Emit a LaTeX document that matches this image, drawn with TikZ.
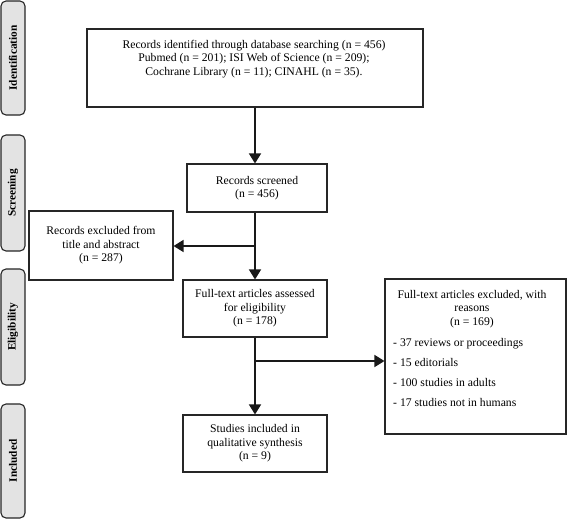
\documentclass[tikz,border=0pt]{standalone}
\usepackage{fontspec}
\setmainfont{Liberation Serif}
\usetikzlibrary{arrows.meta}
\begin{document}
\begin{tikzpicture}[x=1pt,y=-1pt,
  box/.style={draw=black!85,line width=1.1pt,fill=white,inner sep=0pt},
  bar/.style={draw=black!85,line width=1.1pt,fill=gray!22,rounded corners=5pt,
    rotate=90,minimum height=24pt,inner sep=0pt,
    font=\bfseries\fontsize{11.3}{12}\selectfont},
  txt/.style={align=center,inner sep=0pt,font=\fontsize{11.7}{13.5}\selectfont},
  arr/.style={line width=1.5pt,draw=black!90,-{Triangle[length=10pt,width=12pt]}},
  seg/.style={line width=1.5pt,draw=black!90}]
\fill[white] (0,0) rectangle (568,520);
\useasboundingbox (0,0) rectangle (568,520);

% phase bars
\node[bar,minimum width=114pt] (b1) at (13,58) {Identification};
\node[bar,minimum width=116pt] (b2) at (13,193) {Screening};
\node[bar,minimum width=116pt] (b3) at (13,327) {Eligibility};
\node[bar,minimum width=114pt] (b4) at (13,461) {Included};

% boxes
\node[box,minimum width=336pt,minimum height=78pt] (ident) at (255,68) {};
\node[txt,anchor=north] (identtxt) at (254,40)
  {Records identified through database searching (n = 456)\\
   Pubmed (n = 201); ISI Web of Science (n = 209);\\
   Cochrane Library (n = 11); CINAHL (n = 35).};

\node[box,minimum width=140pt,minimum height=48pt,txt] (screened) at (257,188)
  {Records screened\\(n = 456)};

\node[box,minimum width=144pt,minimum height=69pt,txt] (recex) at (101,245.5)
  {Records excluded from\\title and abstract\\(n = 287)};

\node[box,minimum width=144pt,minimum height=57pt,txt] (ftext) at (255,308.5)
  {Full-text articles assessed\\for eligibility\\(n = 178)};

\node[box,minimum width=144pt,minimum height=57pt,txt] (incl) at (255,443.5)
  {Studies included in\\qualitative synthesis\\(n = 9)};

\node[box,minimum width=181pt,minimum height=155pt] (excl) at (475.5,356.5) {};
\node[txt,anchor=north] (excltxt) at (472,290)
  {Full-text articles excluded, with\\reasons\\(n = 169)};
\node[txt,align=left,anchor=north west,font=\fontsize{11.7}{20}\selectfont] (excllist) at (393,338)
  {- 37 reviews or proceedings\\
   - 15 editorials\\
   - 100 studies in adults\\
   - 17 studies not in humans};

% connectors
\coordinate (j1) at (255,246);
\coordinate (j2) at (255,361);
\draw[arr] (ident.south) -- (ident.south |- screened.north);
\draw[arr] (ftext.north |- screened.south) -- (ftext.north);
\draw[arr] (j1) -- (recex.east |- j1);
\draw[arr] (ftext.south) -- (incl.north);
\draw[arr] (j2) -- (excl.west |- j2);
\end{tikzpicture}
\end{document}
